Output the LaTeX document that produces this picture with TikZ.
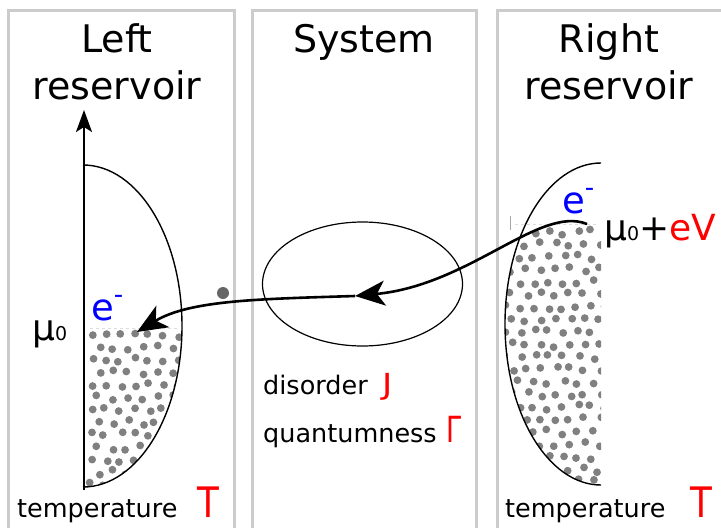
\documentclass[tikz,border=0pt]{standalone}
\usepackage{fontspec}
\setmainfont{DejaVu Sans}
\usetikzlibrary{arrows.meta,shapes.geometric}
\definecolor{panelgray}{HTML}{CCCCCC}
\definecolor{dotgray}{HTML}{808080}
\definecolor{faint}{HTML}{DDDDDD}
\newcommand{\mysub}{{\fontsize{19}{19}\selectfont 0}}
\newcommand{\myelec}{e\raisebox{17pt}{\fontsize{26}{26}\selectfont -}}
\begin{document}
\begin{tikzpicture}[x=1pt,y=-1pt,
  panel/.style={draw=panelgray,line width=3pt},
  title/.style={font=\fontsize{38}{44}\selectfont,anchor=base,inner sep=0pt},
  lbl/.style={font=\fontsize{25.5}{30}\selectfont,anchor=base west,inner sep=0pt},
  param/.style={font=\fontsize{42}{44}\selectfont,text=red,anchor=base west,inner sep=0pt},
  sym/.style={font=\fontsize{36}{40}\selectfont,anchor=base west,inner sep=0pt},
  curve/.style={line width=1.4pt},
  flow/.style={line width=2.6pt},
  tip/.style={-{Stealth[length=30pt,width=25pt,inset=8pt]}}
]
\useasboundingbox (0,0) rectangle (721,528);
\clip (0,0) rectangle (721,528);

% panels
\draw[panel] (8,540) -- (8,10) -- (234,10) -- (234,540);
\draw[panel] (252,540) -- (252,10) -- (476,10) -- (476,540);
\draw[panel] (497,540) -- (497,10) -- (740,10) -- (740,540);

% titles
\node[title] (tl1) at (117,52) {Left};
\node[title] (tl2) at (117,99) {reservoir};
\node[title] (ts) at (364,52) {System};
\node[title] (tr1) at (609,52) {Right};
\node[title] (tr2) at (609,99) {reservoir};

% left reservoir dots
\pgfmathsetseed{11}
\begin{scope}
  \clip (84,329) rectangle (200,500);
  \clip (83,326) ellipse [x radius=99, y radius=161];
  \foreach \r in {0,...,13} {
    \foreach \c in {0,...,7} {
      \pgfmathsetmacro\px{91 + \c*14.5 + mod(\r,2)*7.2 + 2.8*rand}
      \pgfmathsetmacro\py{335 + \r*12.5 + 2.8*rand}
      \fill[dotgray] (\px,\py) circle[radius=3.9];
    }
  }
\end{scope}
\draw[faint,dashed,line width=1pt] (90,328) -- (178,328);

% right reservoir dots
\begin{scope}
  \clip (490,225) rectangle (601,500);
  \clip (601,324) ellipse [x radius=96, y radius=161];
  \foreach \r in {0,...,21} {
    \foreach \c in {0,...,7} {
      \pgfmathsetmacro\px{505 + \c*14.5 + mod(\r,2)*7.2 + 2.8*rand}
      \pgfmathsetmacro\py{232 + \r*12.5 + 2.8*rand}
      \fill[dotgray] (\px,\py) circle[radius=3.9];
    }
  }
\end{scope}
\draw[faint,dashed,line width=1pt] (515,224) -- (598,224);

% left axis and density curve
\coordinate (axbot) at (84,490);
\coordinate (axtop) at (84,110);
\draw[line width=1.8pt,-{Stealth[length=22pt,width=16pt,inset=5pt]}] (axbot) -- (axtop);
\draw[curve] (83,165) arc[start angle=-90, end angle=90, x radius=99, y radius=161];

% right density curve
\draw[curve] (601,163) arc[start angle=-90, end angle=-270, x radius=96, y radius=161];
\draw[gray!70,line width=0.8pt] (510,216) -- (510,230);

% system
\node[draw,ellipse,minimum width=200pt,minimum height=124pt,inner sep=0pt,line width=1.2pt] (sys) at (362.5,284) {};

% electron path
\coordinate (src) at (587,224);
\coordinate (mid) at (355,296);
\coordinate (dst) at (137,332);
\draw[flow,tip] (src) .. controls (540,205) and (470,285) .. (mid);
\draw[flow,tip] (mid) .. controls (260,299) and (190,300) .. (dst);
\node[circle,fill=black!60,minimum size=12pt,inner sep=0pt] (pt) at (223,293) {};

% labels left
\node[sym] (mul) at (32,340) {μ\mysub};
\node[sym,text=blue,font=\fontsize{37}{40}\selectfont] (el) at (91,320) {\myelec};
\node[lbl] (tleft) at (17,517) {temperature};
\node[param] (Tl) at (197,517) {\scalebox{0.85}[1]{T}};

% labels right
\node[sym,text=blue,font=\fontsize{37}{40}\selectfont] (er) at (562,213) {\myelec};
\node[sym] (mur) at (604,240) {μ\mysub+\textcolor{red}{eV}};
\node[lbl] (tright) at (505,517) {temperature};
\node[param] (Tr) at (690,517) {\scalebox{0.85}[1]{T}};

% system labels
\node[lbl] (dis) at (263,394) {disorder};
\node[param,font=\fontsize{29}{32}\selectfont] (J) at (382,394) {\scalebox{1.2}[1]{J}};
\node[lbl] (qua) at (263,442) {quantumness};
\node[param,font=\fontsize{36}{40}\selectfont] (G) at (446,442) {\scalebox{0.75}[1]{Γ}};
\end{tikzpicture}
\end{document}
